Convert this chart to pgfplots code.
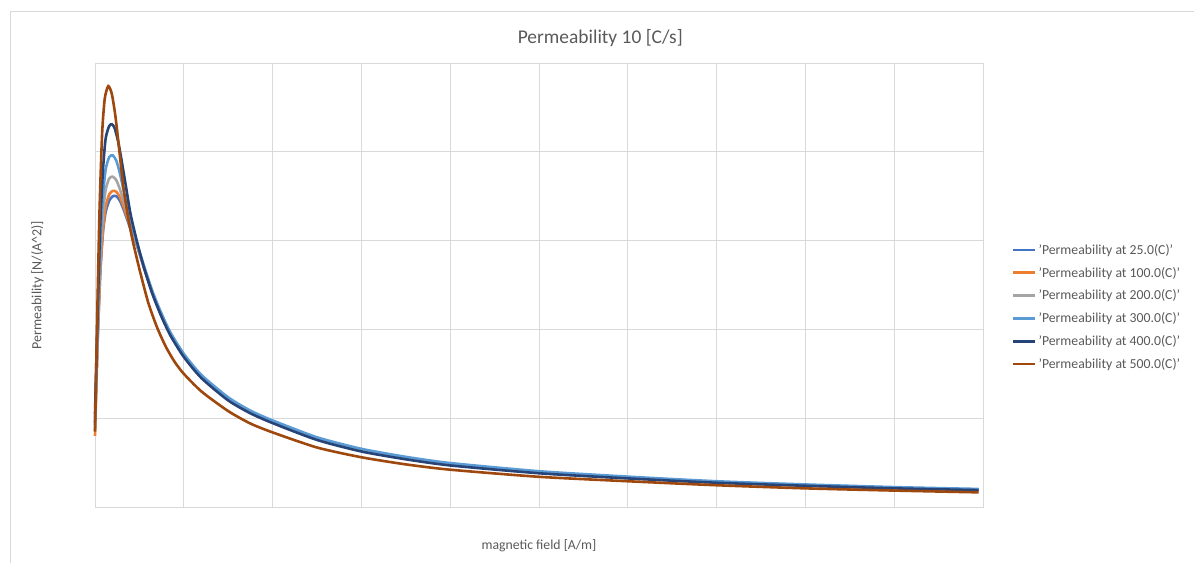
\documentclass[border=0pt]{standalone}
\usepackage{pgfplots}
\pgfplotsset{compat=1.18}
\usepackage{fontspec}
\setmainfont{Carlito}
\definecolor{cA}{HTML}{4472C4}
\definecolor{cB}{HTML}{ED7D31}
\definecolor{cC}{HTML}{A5A5A5}
\definecolor{cD}{HTML}{5B9BD5}
\definecolor{cE}{HTML}{264478}
\definecolor{cF}{HTML}{9E480E}
\definecolor{gridc}{HTML}{D9D9D9}
\definecolor{txt}{HTML}{595959}
\begin{document}
\begin{tikzpicture}
\useasboundingbox (0,0) rectangle (1194bp,563bp);
\draw[gridc, line width=0.8bp] (10bp,0) -- (10bp,552bp) -- (1194bp,552bp);
\begin{axis}[
  at={(95bp,56bp)}, anchor=south west,
  scale only axis, width=888bp, height=444bp,
  xmin=0, xmax=10, ymin=0, ymax=5,
  xtick={0,1,...,10}, ytick={0,1,...,5},
  xticklabels={}, yticklabels={},
  major tick length=0pt,
  grid=major, grid style={gridc, line width=0.8bp},
  axis line style={gridc, line width=0.8bp},
  title={Permeability 10 [C/s]},
  title style={font=\fontsize{19.5}{22}\selectfont, text=txt, at={(0.569,1.043)}, anchor=center},
  xlabel={magnetic field [A/m]},
  xlabel style={font=\fontsize{13.8}{16}\selectfont, text=txt, at={(0.5,-0.088)}, anchor=center},
  ylabel={Permeability [N/(A\^{}2)]},
  ylabel style={font=\fontsize{14}{16}\selectfont, text=txt, at={(-0.065,0.5)}, anchor=center},
  legend style={draw=none, fill=none, at={(1.0324,0.597)}, anchor=north west,
    font=\fontsize{13.8}{16}\selectfont, text=txt, row sep=7.3bp, inner sep=0pt},
  legend cell align=left,
  legend image code/.code={\draw[#1, line width=2.6bp] (0bp,0bp) -- (22bp,0bp);},
  every axis plot/.append style={line width=2.6bp, smooth, tension=0.4},
  clip=false,
]
\addplot[cA] coordinates {(0,0.95)(0.03,1.9)(0.06,2.65)(0.09,3.1)(0.12,3.32)(0.16,3.45)(0.2,3.5)(0.24,3.5)(0.28,3.45)(0.33,3.33)(0.4,3.13)(0.47,2.95)(0.55,2.7)(0.65,2.4)(0.75,2.16)(0.85,1.95)(1.0,1.71)(1.2,1.47)(1.5,1.22)(1.75,1.07)(2.0,0.96)(2.5,0.77)(3.0,0.64)(3.5,0.55)(4.0,0.48)(5.0,0.39)(6.0,0.33)(7.0,0.28)(8.0,0.245)(9.0,0.215)(9.95,0.195)};
\addlegendentry{'Permeability at 25.0(C)'}
\addplot[cB] coordinates {(0,0.80)(0.03,1.85)(0.06,2.65)(0.09,3.12)(0.12,3.38)(0.16,3.52)(0.2,3.56)(0.24,3.55)(0.28,3.49)(0.33,3.36)(0.4,3.15)(0.47,2.96)(0.55,2.7)(0.65,2.4)(0.75,2.155)(0.85,1.945)(1.0,1.705)(1.2,1.465)(1.5,1.215)(1.75,1.065)(2.0,0.955)(2.5,0.765)(3.0,0.635)(3.5,0.545)(4.0,0.475)(5.0,0.385)(6.0,0.325)(7.0,0.277)(8.0,0.242)(9.0,0.213)(9.95,0.193)};
\addlegendentry{'Permeability at 100.0(C)'}
\addplot[cC] coordinates {(0,0.88)(0.03,1.95)(0.06,2.8)(0.09,3.3)(0.12,3.57)(0.16,3.7)(0.2,3.72)(0.24,3.68)(0.28,3.58)(0.33,3.42)(0.4,3.18)(0.47,2.97)(0.55,2.71)(0.65,2.41)(0.75,2.165)(0.85,1.955)(1.0,1.715)(1.2,1.475)(1.5,1.225)(1.75,1.075)(2.0,0.965)(2.5,0.775)(3.0,0.645)(3.5,0.555)(4.0,0.485)(5.0,0.395)(6.0,0.335)(7.0,0.283)(8.0,0.248)(9.0,0.218)(9.95,0.198)};
\addlegendentry{'Permeability at 200.0(C)'}
\addplot[cD] coordinates {(0,0.92)(0.03,2.05)(0.06,2.95)(0.09,3.5)(0.12,3.8)(0.16,3.94)(0.2,3.96)(0.24,3.9)(0.28,3.76)(0.33,3.53)(0.4,3.22)(0.47,2.98)(0.55,2.72)(0.65,2.42)(0.75,2.175)(0.85,1.965)(1.0,1.725)(1.2,1.485)(1.5,1.235)(1.75,1.085)(2.0,0.975)(2.5,0.785)(3.0,0.655)(3.5,0.565)(4.0,0.495)(5.0,0.403)(6.0,0.342)(7.0,0.29)(8.0,0.254)(9.0,0.224)(9.95,0.203)};
\addlegendentry{'Permeability at 300.0(C)'}
\addplot[cE] coordinates {(0,1.05)(0.03,2.2)(0.06,3.2)(0.09,3.8)(0.12,4.15)(0.16,4.29)(0.19,4.31)(0.22,4.27)(0.26,4.12)(0.3,3.9)(0.35,3.6)(0.4,3.3)(0.47,3.0)(0.55,2.7)(0.65,2.39)(0.75,2.14)(0.85,1.93)(1.0,1.69)(1.2,1.45)(1.5,1.2)(1.75,1.055)(2.0,0.945)(2.5,0.755)(3.0,0.625)(3.5,0.537)(4.0,0.468)(5.0,0.38)(6.0,0.322)(7.0,0.273)(8.0,0.239)(9.0,0.21)(9.95,0.19)};
\addlegendentry{'Permeability at 400.0(C)'}
\addplot[cF] coordinates {(0,0.85)(0.02,1.9)(0.05,3.3)(0.08,4.2)(0.11,4.6)(0.15,4.74)(0.19,4.65)(0.23,4.4)(0.27,4.05)(0.32,3.6)(0.37,3.28)(0.42,3.02)(0.5,2.68)(0.6,2.3)(0.7,2.02)(0.8,1.8)(0.9,1.63)(1.0,1.5)(1.2,1.3)(1.5,1.08)(1.75,0.94)(2.0,0.84)(2.5,0.67)(3.0,0.56)(3.5,0.48)(4.0,0.42)(5.0,0.34)(6.0,0.29)(7.0,0.245)(8.0,0.21)(9.0,0.185)(9.95,0.165)};
\addlegendentry{'Permeability at 500.0(C)'}
\end{axis}
\end{tikzpicture}
\end{document}
